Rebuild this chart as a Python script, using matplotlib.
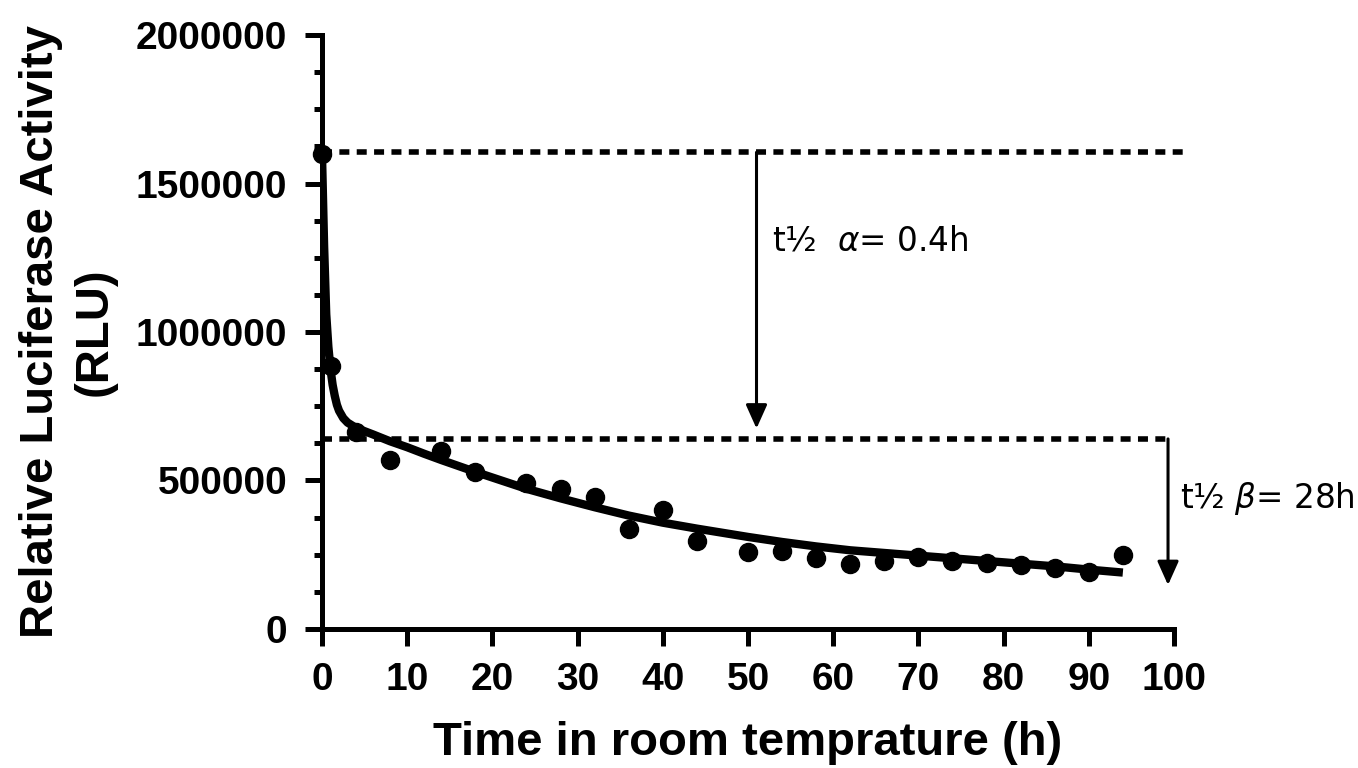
import numpy as np
import matplotlib
matplotlib.use("Agg")
import matplotlib.pyplot as plt
from matplotlib.ticker import FormatStrFormatter

plt.rcParams['font.family'] = ['Liberation Sans', 'DejaVu Sans']
plt.rcParams['mathtext.fontset'] = 'dejavusans'
plt.rcParams['lines.scale_dashes'] = False

# measured luciferase activity (RLU) vs hours at room temperature
time_h = [0, 1, 4, 8, 14, 18, 24, 28, 32, 36, 40, 44, 50, 54, 58, 62,
          66, 70, 74, 78, 82, 86, 90, 94]
rlu = [1600000, 884000, 663000, 570000, 601000, 529000, 490000, 471000,
       445000, 336000, 400000, 296000, 260000, 262000, 238000, 218000,
       229000, 243000, 230000, 221000, 217000, 204000, 193000, 249000]

# two-phase decay fit line
fit_t = [0, 0.25, 0.5, 0.75, 1, 1.25, 1.5, 1.75, 2, 2.5, 3, 4, 6, 8, 10,
         12, 14, 16, 18, 24, 28, 32, 36, 40, 44, 50, 54, 58, 62, 66, 70,
         74, 78, 82, 86, 90, 94]
fit_y = [1600000, 1290000, 1060000, 950000, 875000, 822000, 785000, 755000,
         735000, 710000, 695000, 677000, 655000, 632000, 612000, 590000,
         569000, 549000, 529000, 472000, 440000, 410000, 382000, 358000,
         338000, 310000, 293000, 278000, 265000, 256000, 247000, 238000,
         229000, 220000, 211000, 200000, 190000]

y0_level = 1605000      # initial level
slow_level = 640000     # start of slow phase
alpha_x, alpha_tip = 51.0, 675000
beta_x, beta_tip = 99.3, 148000

fig = plt.figure(figsize=(13.58, 7.68), dpi=100)
ax = fig.add_axes([0.2371, 0.1810, 0.6274, 0.7734])

ax.plot(fit_t, fit_y, color='black', lw=6, solid_joinstyle='round',
        solid_capstyle='butt', zorder=3)
ax.plot(time_h, rlu, 'o', color='black', ms=13, clip_on=False, zorder=4)

ax.plot([0, 101.5], [y0_level, y0_level], color='black', lw=4,
        dashes=(7.2, 5.3), dash_capstyle='butt', clip_on=False)
ax.plot([0, beta_x], [slow_level, slow_level], color='black', lw=4,
        dashes=(7.2, 5.3), dash_capstyle='butt', clip_on=False)

arrow_style = dict(arrowstyle='-|>,head_length=1.45,head_width=0.65',
                   mutation_scale=10, color='black', lw=2.2,
                   shrinkA=0, shrinkB=0)
ax.annotate('', xy=(alpha_x, alpha_tip), xytext=(alpha_x, y0_level),
            arrowprops=arrow_style, annotation_clip=False)
ax.annotate('', xy=(beta_x, beta_tip), xytext=(beta_x, slow_level),
            arrowprops=arrow_style, annotation_clip=False)

ax.text(52.8, 1308000, r't½  $\alpha$= 0.4h', fontsize=23.5, va='center',
        ha='left', family='DejaVu Sans')
ax.text(100.7, 440000, r't½ $\beta$= 28h', fontsize=23.5, va='center',
        ha='left', family='DejaVu Sans', clip_on=False)

ax.set_xlim(0, 100)
ax.set_ylim(0, 2000000)
ax.set_xticks(np.arange(0, 101, 10))
ax.set_yticks(np.arange(0, 2000001, 500000))
ax.set_yticks(np.arange(0, 2000001, 125000), minor=True)
ax.yaxis.set_major_formatter(FormatStrFormatter('%d'))
ax.tick_params(axis='both', which='major', width=3.6, length=12,
               labelsize=28, pad=13)
ax.tick_params(axis='y', which='minor', width=3.6, length=6)
ax.tick_params(axis='x', pad=12)
for lab in ax.get_xticklabels() + ax.get_yticklabels():
    lab.set_fontweight('bold')

for side in ['top', 'right']:
    ax.spines[side].set_visible(False)
for side in ['left', 'bottom']:
    ax.spines[side].set_linewidth(3.6)

ax.set_xlabel('Time in room temprature (h)', fontsize=34, fontweight='bold',
              labelpad=16)
ax.set_ylabel('Relative Luciferase Activity\n(RLU)', fontsize=34,
              fontweight='bold', linespacing=1.3)
ax.yaxis.set_label_coords(-0.2406, 0.5)

fig.savefig('out.png', dpi=100)
